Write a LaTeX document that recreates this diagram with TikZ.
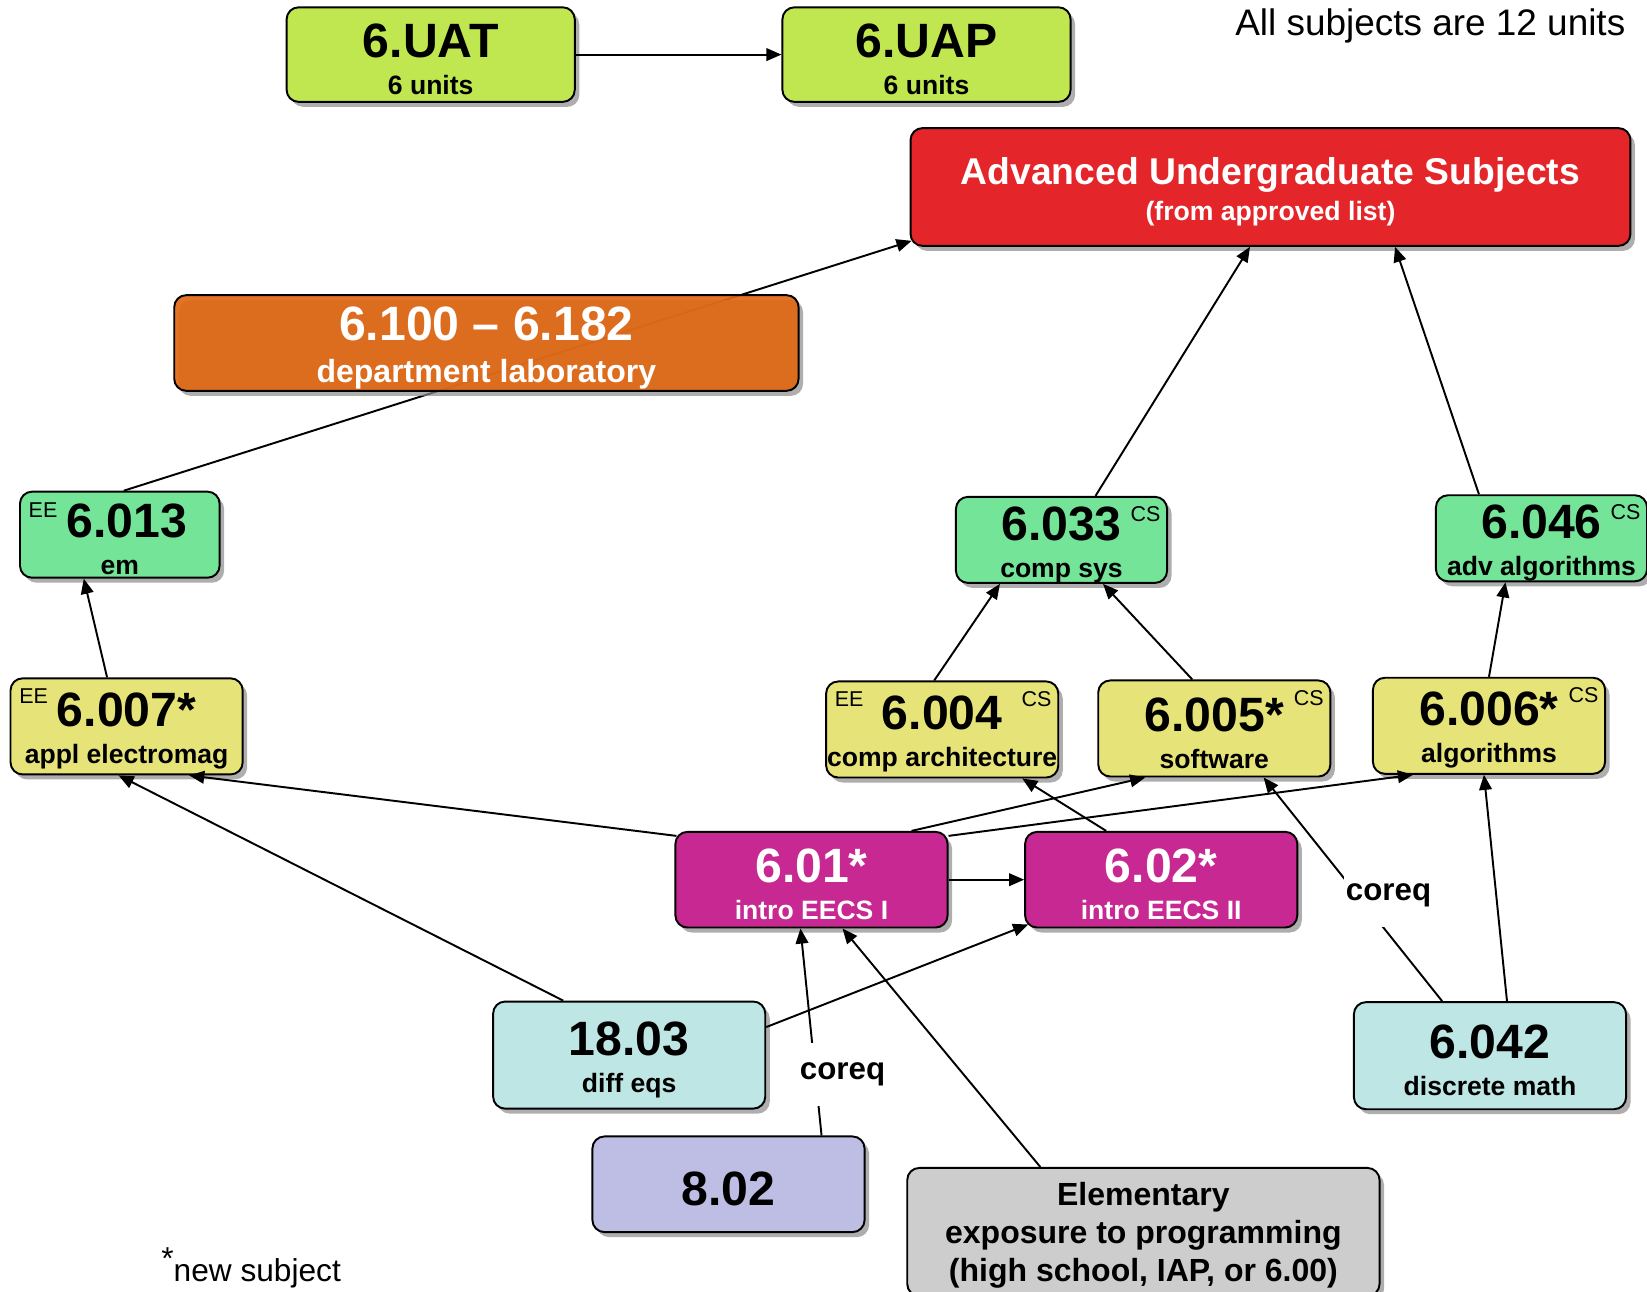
\documentclass[tikz,border=0pt]{standalone}
\usepackage{fontspec}
\setmainfont{Liberation Sans}
\usetikzlibrary{arrows.meta, positioning, shadows, backgrounds}

\definecolor{UnitGreen}{RGB}{193,231,80}
\definecolor{AdvRed}{RGB}{228,38,42}
\definecolor{LabOrange}{RGB}{225,103,19}
\definecolor{HeadGreen}{RGB}{115,228,152}
\definecolor{CoreYellow}{RGB}{230,228,120}
\definecolor{IntroMagenta}{RGB}{200,40,145}
\definecolor{MathCyan}{RGB}{190,230,228}
\definecolor{PhysLav}{RGB}{190,190,228}
\definecolor{ProgGray}{RGB}{205,205,205}

\newcommand{\numf}{\fontsize{13.7}{16}\bfseries\rule{0pt}{12.2pt}}
\newcommand{\subf}{\fontsize{7.55}{8.64}\bfseries}
\newcommand{\advf}{\fontsize{10.6}{12}\bfseries\rule{0pt}{10.4pt}}
\newcommand{\advsubf}{\fontsize{7.57}{7.9}\bfseries}
\newcommand{\labsubf}{\fontsize{9.1}{11.9}\bfseries}
% subject number over its short title
\newcommand{\subj}[2]{\numf #1\\[-1.5pt]\subf #2}

\begin{document}
\begin{tikzpicture}[x=0.01cm, y=-0.01cm,
        subj/.style={rectangle, draw, line width=0.55pt, rounded corners=0.12cm, align=center, inner sep=0pt,
            drop shadow={shadow xshift=0.045cm, shadow yshift=-0.05cm, fill=black!45, opacity=0.7}},
        unitbox/.style={subj, fill=UnitGreen, minimum width=2.88cm, minimum height=0.945cm},
        advbox/.style={subj, fill=AdvRed, text=white, minimum width=7.195cm, minimum height=1.177cm},
        labbox/.style={subj, fill=LabOrange, fill opacity=0.92, text opacity=1, text=white, minimum width=6.24cm, minimum height=0.956cm},
        headbox/.style={subj, fill=HeadGreen, minimum width=2.11cm, minimum height=0.86cm},
        corebox/.style={subj, fill=CoreYellow, minimum width=2.32cm, minimum height=0.96cm},
        introbox/.style={subj, fill=IntroMagenta, text=white, minimum width=2.72cm, minimum height=0.956cm},
        mathbox/.style={subj, fill=MathCyan, minimum width=2.72cm, minimum height=1.07cm},
        physbox/.style={subj, fill=PhysLav, minimum width=2.72cm, minimum height=0.956cm},
        progbox/.style={subj, fill=ProgGray, minimum width=4.72cm, minimum height=1.28cm, font=\fontsize{9.1}{10.8}\bfseries},
        tagtext/.style={inner sep=0pt, font=\fontsize{6.1}{6.5}\selectfont},
        eetag/.style={label={[tagtext, anchor=north west, xshift=0.09cm, yshift=-0.11cm]north west:EE}},
        cstag/.style={label={[tagtext, anchor=north east, xshift=-0.07cm, yshift=-0.1cm]north east:CS}},
        coreqlabel/.style={fill=white, inner xsep=0.02cm, inner ysep=0.2cm, font=\fontsize{8.9}{10}\bfseries},
        arrow/.style={line width=0.55pt, -{Triangle[length=4.3pt, width=3.6pt]}}
    ]
    \useasboundingbox (0,0) rectangle (1647,1292);

    % subjects
    \node[unitbox] (uat) at (430.7,54.6) {\subj{6.UAT}{6 units}};
    \node[unitbox] (uap) at (926.5,54.6) {\subj{6.UAP}{6 units}};
    \node[advbox] (adv) at (1270.5,187) {\advf Advanced Undergraduate Subjects\\[-2pt]\advsubf (from approved list)};
    \node[labbox] (lab) at (486.4,343) {\numf 6.100 – 6.182\\\labsubf department laboratory};

    \node[headbox, eetag, minimum width=1.995cm] (m6013) at (119.8,534.7) {\subj{\hspace*{0.14cm}6.013}{em}};
    \node[headbox, cstag] (m6033) at (1061.5,539.9) {\subj{6.033}{comp sys}};
    \node[headbox, cstag] (m6046) at (1541.5,538.3) {\subj{6.046}{adv algorithms}};

    \node[corebox, eetag] (m6007) at (126.6,726.4) {\subj{6.007*}{appl electromag}};
    \node[corebox, eetag, cstag] (m6004) at (942.2,729.5) {\subj{6.004}{comp architecture}};
    \node[corebox, cstag] (m6005) at (1214.3,728.5) {\subj{6.005*}{software}};
    \node[corebox, cstag] (m6006) at (1489,725.8) {\subj{6.006*}{algorithms}};

    \node[introbox] (m601) at (811.5,879.7) {\subj{6.01*}{intro EECS I}};
    \node[introbox] (m602) at (1161.2,879.7) {\subj{6.02*}{intro EECS II}};

    \node[mathbox] (m1803) at (629.2,1055.1) {\subj{18.03}{diff eqs}};
    \node[mathbox] (m6042) at (1490,1055.7) {\subj{6.042}{discrete math}};
    \node[physbox] (m802) at (728.5,1184.3) {\numf 8.02};
    \node[progbox] (prog) at (1143.4,1232) {\rule{0pt}{8.3pt}Elementary\\exposure to programming\\(high school, IAP, or 6.00)};

    % notes
    \node[anchor=east, inner sep=0pt, font=\fontsize{10.5}{12}\selectfont] (units) at (1626,26) {All subjects are 12 units};
    \node[anchor=west, font=\fontsize{9}{11}\selectfont] (newsub) at (149,1268) {\raisebox{0.4em}{*}new subject};

    % prerequisites
    \begin{scope}[on background layer]
        \draw[arrow] ([xshift=0.04cm]m6013.north) -- ([shift={(2,-6)}]adv.south west);
    \end{scope}
    \draw[arrow] (uat.east) -- (uap.west);
    \draw[arrow] ([xshift=-0.195cm]m6007.north) -- ([xshift=-0.36cm]m6013.south);
    \draw[arrow] ([xshift=-0.08cm]m6004.north) -- ([xshift=-0.615cm]m6033.south);
    \draw[arrow] ([xshift=-0.22cm]m6005.north) -- ([xshift=0.415cm]m6033.south);
    \draw[arrow] ([xshift=0.34cm]m6033.north) -- ([xshift=-0.205cm]adv.south);
    \draw[arrow] ([xshift=-0.625cm]m6046.north) -- ([xshift=1.245cm]adv.south);
    \draw[arrow] (m6006.north) -- ([xshift=-0.36cm]m6046.south);
    \draw[arrow] ([shift={(2,5)}]m601.north west) -- ([xshift=0.625cm]m6007.south);
    \draw[arrow] ([xshift=-0.66cm]m1803.north) -- ([xshift=-0.08cm]m6007.south);
    \draw[arrow] ([xshift=1cm]m601.north) -- ([xshift=-0.69cm]m6005.south);
    \draw[arrow] ([shift={(0,5)}]m601.north east) -- ([xshift=-0.76cm]m6006.south);
    \draw[arrow] ([xshift=-0.55cm]m602.north) -- ([xshift=0.8cm]m6004.south);
    \draw[arrow] (m601.east) -- (m602.west);
    \draw[arrow] ([yshift=0.28cm]m1803.east) -- ([shift={(4,-4)}]m602.south west);
    \draw[arrow] ([xshift=0.93cm]m802.north) -- node[pos=0.315, coreqlabel, xshift=0.276cm, yshift=-0.04cm] (coreqA) {coreq} ([xshift=-0.11cm]m601.south);
    \draw[arrow] ([xshift=-0.478cm]m6042.north) -- node[pos=0.4885, coreqlabel, xshift=0.336cm, yshift=-0.03cm] (coreqB) {coreq} ([xshift=0.493cm]m6005.south);
    \draw[arrow] ([xshift=0.17cm]m6042.north) -- ([xshift=-0.05cm]m6006.south);
    \draw[arrow] ([xshift=-1.03cm]prog.north) -- ([xshift=0.31cm]m601.south);
\end{tikzpicture}
\end{document}
